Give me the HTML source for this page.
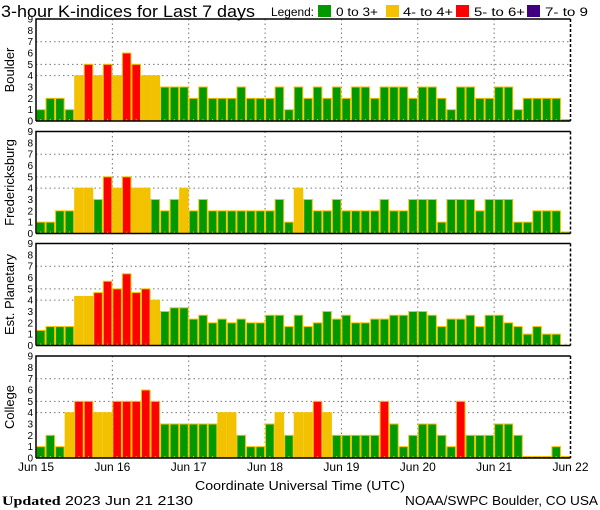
<!DOCTYPE html>
<html><head><meta charset="utf-8">
<style>
html,body{margin:0;padding:0;background:#fff;}
svg{display:block;}
text{font-family:"Liberation Sans",sans-serif;fill:#000;}
</style></head>
<body>
<svg id="chart" width="600" height="510" viewBox="0 0 600 510" xmlns="http://www.w3.org/2000/svg">
  <text x="1" y="17" font-size="17" textLength="254" lengthAdjust="spacingAndGlyphs">3-hour K-indices for Last 7 days</text>
  <g font-size="12">
    <text x="271" y="16" textLength="43" lengthAdjust="spacingAndGlyphs">Legend:</text>
    <rect x="318" y="5" width="13" height="12" fill="#009900"/>
    <text x="336" y="16" textLength="42" lengthAdjust="spacingAndGlyphs">0 to 3+</text>
    <rect x="386" y="5" width="13" height="12" fill="#f2c200"/>
    <text x="403" y="16" textLength="50" lengthAdjust="spacingAndGlyphs">4- to 4+</text>
    <rect x="456" y="5" width="13" height="12" fill="#ff0000"/>
    <text x="474" y="16" textLength="51" lengthAdjust="spacingAndGlyphs">5- to 6+</text>
    <rect x="527" y="5" width="13" height="12" fill="#400080"/>
    <text x="545" y="16" textLength="43" lengthAdjust="spacingAndGlyphs">7- to 9</text>
  </g>
  <text x="300" y="490" font-size="13" text-anchor="middle" textLength="210" lengthAdjust="spacingAndGlyphs">Coordinate Universal Time (UTC)</text>
  <text x="2" y="505" font-size="13" textLength="191" lengthAdjust="spacingAndGlyphs"><tspan font-family="Liberation Serif, serif" font-weight="bold">Updated</tspan> 2023 Jun 21 2130</text>
  <text x="598" y="505" font-size="13" text-anchor="end" textLength="193" lengthAdjust="spacingAndGlyphs">NOAA/SWPC Boulder, CO USA</text>
</svg>
<script>
const stations = ["Boulder","Fredericksburg","Est. Planetary","College"];
const boulder = [1,2,2,1,4,5,4,5, 4,6,5,4,4,3,3,3, 2,3,2,2,2,3,2,2, 2,3,1,3,2,3,2,3, 2,3,3,2,3,3,3,2, 3,3,2,1,3,3,2,2, 3,3,1,2,2,2,2,0];
const fredericksburg = [1,1,2,2,4,4,3,5, 4,5,4,4,3,2,3,4, 2,3,2,2,2,2,2,2, 2,3,1,4,3,2,2,3, 2,2,2,2,3,2,2,3, 3,3,1,3,3,3,2,3, 3,3,1,1,2,2,2,0];
const planetary = [1.33,1.67,1.67,1.67,4.33,4.33,4.67,5.67, 5,6.33,4.67,5,4,3,3.33,3.33, 2.33,2.67,2,2.33,2,2.33,2,2, 2.67,2.67,1.67,2.67,1.67,2,3,2.33, 2.67,2,2,2.33,2.33,2.67,2.67,3, 3,2.67,1.67,2.33,2.33,2.67,1.67,2.67, 2.67,2,1.67,1,1.67,1,1,null];
const college = [1,2,1,4,5,5,4,4, 5,5,5,6,5,3,3,3, 3,3,3,4,4,2,1,1, 3,4,2,4,4,5,4,2, 2,2,2,2,5,3,1,2, 3,3,2,1,5,2,2,2, 3,3,2,0,0,0,1,0];
const series = [boulder, fredericksburg, planetary, college];
const dayLabels = ["Jun 15","Jun 16","Jun 17","Jun 18","Jun 19","Jun 20","Jun 21","Jun 22"];
const yTicks = [0,1,2,3,4,5,6,7,8,9];
const gridLevels = [4,5,7];

const NS = "http://www.w3.org/2000/svg";
const svg = document.getElementById("chart");
const X0 = 36, X1 = 570.5, NB = 56;
const bw = (X1 - X0) / NB;
const unit = 11.33;
const bottoms = [121, 233.5, 345.5, 458];
function xScale(i){ return X0 + i * bw; }
function mk(tag, attrs){ const e = document.createElementNS(NS, tag); for (const k in attrs) e.setAttribute(k, attrs[k]); return e; }
function color(v){ if (v < 3.6) return "#009900"; if (v < 4.6) return "#f2c200"; if (v < 6.6) return "#ff0000"; return "#400080"; }

stations.forEach((name, p) => {
  const y0 = bottoms[p];
  const yScale = v => y0 - v * unit;
  const top = yScale(9);
  const g = mk("g", {});
  
  
  svg.appendChild(g);
  gridLevels.forEach(lv => {
    const l = mk("line", {x1:X0, x2:X1, y1:yScale(lv), y2:yScale(lv), stroke:"#777", "stroke-dasharray":"1.5,3"});
    
    
    g.appendChild(l);
  });
  for (let d = 1; d < 7; d++) {
    const x = xScale(d * 8);
    const l = mk("line", {x1:x, x2:x, y1:top, y2:y0, stroke:"#777", "stroke-dasharray":"1.5,3"});
    
    
    g.appendChild(l);
  }
  series[p].forEach((v, i) => {
    const x = xScale(i);
    if (v !== null) {
      const h = Math.max(v * unit, 1.5);
      const r = mk("rect", {x:x+0.5, y:y0-h, width:bw-1, height:h, fill:color(v), stroke:"#f2c200", "stroke-width":1});
      
      
      g.appendChild(r);
    }
    const t = mk("line", {x1:x+bw/2, x2:x+bw/2, y1:y0-2, y2:y0, stroke:"#f2c200", "stroke-width":1});
    
    
    g.appendChild(t);
  });
  const frame = mk("path", {d:`M${X0},${y0} L${X0},${top} L${X1},${top} M${X0},${y0} L${X1},${y0}`, stroke:"#000", "stroke-width":1.5, fill:"none"});
  
  
  g.appendChild(frame);
  const rb = mk("line", {x1:X1, x2:X1, y1:top, y2:y0, stroke:"#000", "stroke-width":1.5, "stroke-dasharray":"3,2"});
  
  
  g.appendChild(rb);
  yTicks.forEach(t => {
    const tx = mk("text", {x:33, y:yScale(t)+3.5, "font-size":10, "text-anchor":"end"});
    tx.textContent = t;
    
    
    g.appendChild(tx);
  });
  const cy = (top + y0) / 2;
  const title = mk("text", {x:0, y:0, "font-size":13, "text-anchor":"middle", transform:`translate(14,${cy}) rotate(-90)`});
  title.textContent = name;
  
  
  g.appendChild(title);
});
dayLabels.forEach((lab, d) => {
  const t = mk("text", {x:xScale(d*8), y:471, "font-size":12, "text-anchor":"middle"});
  t.textContent = lab;
  
  
  svg.appendChild(t);
});
</script>
</body></html>
